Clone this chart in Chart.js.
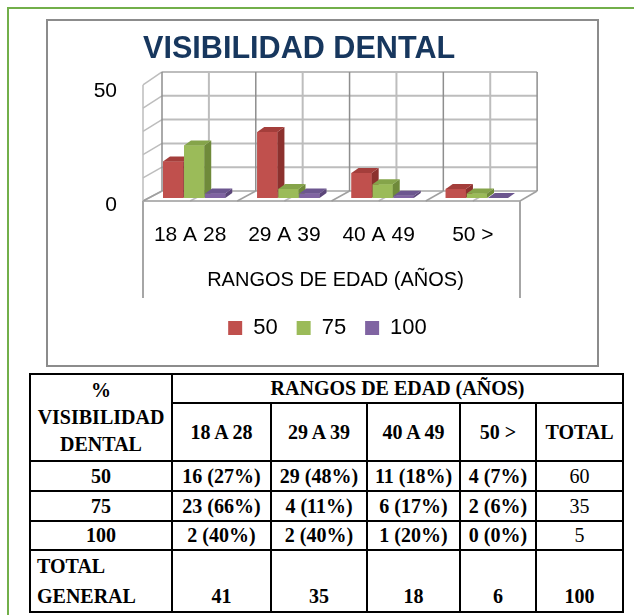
<!DOCTYPE html>
<html>
<head>
<meta charset="utf-8">
<title>Visibilidad dental</title>
<script src="https://cdn.jsdelivr.net/npm/chart.js@4.4.1/dist/chart.umd.min.js"></script>
<style>
  html, body { margin: 0; padding: 0; background: #fff; }
  body { width: 634px; height: 615px; position: relative; overflow: hidden; }
  #frame { position: absolute; left: 7px; top: 7px; width: 700px; height: 700px;
           border-top: 2.5px solid #72AF4A; border-left: 2.5px solid #72AF4A; }
  #chartBox { position: absolute; left: 46px; top: 19px; width: 549px; height: 344px;
              border: 2px solid #8C8C8C; background: #fff; }
  #chart { position: absolute; left: 0; top: 0; }
  #title { position: absolute; left: 143px; top: 30px; line-height: 30px; white-space: nowrap;
           font: bold 30.6px "Liberation Sans", Arial, sans-serif; color: #17375E; }
  #dataTable { position: absolute; left: 29px; top: 373px; width: 593px; table-layout: fixed;
               border-collapse: collapse; font: bold 20px "Liberation Serif", "Times New Roman", serif; color: #000; }
  #dataTable td { border: 2px solid #000; padding: 0; text-align: center; vertical-align: middle; line-height: 27px; }
  #dataTable td.plain { font-weight: normal; }
  #dataTable td.totalLabel { text-align: left; padding-left: 6px; vertical-align: bottom; line-height: 30px; }
  #dataTable tr.totalRow td { vertical-align: bottom; line-height: 30px; }
</style>
</head>
<body>
<div id="frame"></div>
<div id="chartBox"></div>
<canvas id="chart" width="634" height="370"></canvas>
<div id="title">VISIBILIDAD DENTAL</div>
<table id="dataTable">
  <colgroup>
    <col style="width:142px"><col style="width:99px"><col style="width:96px">
    <col style="width:93px"><col style="width:76px"><col style="width:87px">
  </colgroup>
  <tbody id="tableBody"></tbody>
</table>

<script>
const categories = ['18 A 28', '29 A 39', '40 A 49', '50 >'];
const seriesNames = ['50', '75', '100'];
const values50 = [16, 29, 11, 4];
const values75 = [23, 4, 6, 2];
const values100 = [2, 2, 1, 0];
const yTickLabels = ['0', '50'];
const axisTitle = 'RANGOS DE EDAD (AÑOS)';

const frontColors = ['#C0504D', '#9BBB59', '#8064A2'];
const sideColors = ['#8C312E', '#6F8A3A', '#5B4679'];
const topColors = ['#A43E3B', '#85A44A', '#6C568F'];

const seriesValues = [values50, values75, values100];

// t = 0 front plane, t = 1 back wall (oblique view of the Excel 3D box)
function proj(ca, x, y, t) {
  return [
    x - 4 + 19 * t - (x - ca.left) * 0.005 * t,
    ca.bottom + 3 - 10 * t - (ca.bottom - y) * (1.018 + 0.026 * t)
  ];
}

function poly(ctx, pts, fill) {
  ctx.beginPath();
  ctx.moveTo(pts[0][0], pts[0][1]);
  pts.slice(1).forEach(p => ctx.lineTo(p[0], p[1]));
  ctx.closePath();
  ctx.fillStyle = fill;
  ctx.fill();
}

function seg(ctx, a, b, color, w) {
  ctx.beginPath();
  ctx.moveTo(a[0], a[1]);
  ctx.lineTo(b[0], b[1]);
  ctx.strokeStyle = color;
  ctx.lineWidth = w;
  ctx.stroke();
}

const box3d = {
  id: 'box3d',
  beforeDatasetsDraw(chart) {
    const { ctx, chartArea: ca, scales: { x, y } } = chart;
    const L = ca.left, R = ca.right, T = ca.top, B = ca.bottom;
    const P = (px, py, t) => proj(ca, px, py, t);
    ctx.save();
    poly(ctx, [P(L, T, 1), P(R, T, 1), P(R, B, 1), P(L, B, 1)], '#fff');

    // value gridlines on back and side walls
    y.ticks.forEach(tk => {
      const py = y.getPixelForValue(tk.value);
      seg(ctx, P(L, py, 1), P(R, py, 1), '#BDBDBD', 2);
      seg(ctx, P(L, py, 0), P(L, py, 1), '#BDBDBD', 1.5);
    });

    // category lines on back wall and floor
    const n = categories.length;
    const step = (R - L) / n;
    categories.forEach((c, i) => {
      const cx = x.getPixelForValue(i);
      seg(ctx, P(cx, T, 1), P(cx, B, 1), '#BDBDBD', 2);
      seg(ctx, P(cx, B, 0), P(cx, B, 1), '#BDBDBD', 1.5);
    });
    for (let i = 0; i <= n; i++) {
      const bx = L + i * step;
      seg(ctx, P(bx, T, 1), P(bx, B, 1), '#8E8E8E', 1.5);
      seg(ctx, P(bx, B, 0), P(bx, B, 1), '#A0A0A0', 1.5);
    }

    // box edges
    seg(ctx, P(L, T, 0), P(L, B, 0), '#BDBDBD', 1.5);
    seg(ctx, P(L, B, 0), P(R, B, 0), '#9A9A9A', 1.5);
    seg(ctx, P(L, B, 0), [P(L, B, 0)[0], x.bottom], '#A6A6A6', 2);
    seg(ctx, P(R, B, 0), [P(R, B, 0)[0], x.bottom], '#A6A6A6', 2);
    ctx.restore();
  },
  afterDatasetsDraw(chart) {
    const ctx = chart.ctx;
    const dx = 7, dy = -5;
    ctx.save();
    seriesValues.forEach((vals, i) => {
      chart.getDatasetMeta(i).data.forEach(bar => {
        const { x, y, base, width } = bar.getProps(['x', 'y', 'base', 'width'], true);
        const l = x - width / 2, r = x + width / 2;
        bar.draw(ctx);
        poly(ctx, [[r, y], [r + dx, y + dy], [r + dx, base + dy], [r, base]], sideColors[i]);
        poly(ctx, [[l, y], [l + dx, y + dy], [r + dx, y + dy], [r, y]], topColors[i]);
      });
    });
    ctx.restore();
  }
};

Chart.defaults.font.family = '"Liberation Sans", Arial, sans-serif';
Chart.defaults.color = '#000';

new Chart(document.getElementById('chart'), {
  type: 'bar',
  data: {
    labels: categories,
    datasets: seriesNames.map((name, i) => ({
      label: name,
      data: seriesValues[i],
      backgroundColor: frontColors[i],
      borderWidth: 0,
      categoryPercentage: 0.67,
      barPercentage: 0.96
    }))
  },
  options: {
    responsive: false,
    animation: false,
    layout: { padding: { left: 90, right: 69, top: 84, bottom: 21 } },
    plugins: {
      tooltip: { enabled: false },
      legend: {
        position: 'bottom',
        labels: { boxWidth: 14, boxHeight: 14, padding: 19, font: { size: 22 }, color: '#000' }
      }
    },
    scales: {
      x: {
        grid: { display: false },
        border: { display: false },
        ticks: { font: { size: 21 }, padding: 17, labelOffset: -4, maxRotation: 0, autoSkip: false },
        title: { display: true, text: axisTitle, font: { size: 20 }, color: '#000', padding: { top: 0, bottom: 6 } },
        afterFit: s => { s.height = 100; }
      },
      y: {
        min: 0, max: 50,
        grid: { display: false, drawTicks: false },
        border: { display: false },
        ticks: {
          stepSize: 10, font: { size: 21 }, padding: 30, labelOffset: 7, autoSkip: false,
          callback: v => yTickLabels.includes(String(v)) ? String(v) : ''
        },
        afterFit: s => { s.width = 57; }
      },
      // empty right-hand box so the legend centres where Excel put it
      yRight: {
        type: 'linear', position: 'right', min: 0, max: 50,
        grid: { display: false }, border: { display: false }, ticks: { display: false },
        afterFit: s => { s.width = 41; }
      }
    }
  },
  plugins: [box3d]
});

// table below the chart
const rowTotals = seriesValues.map(v => v.reduce((a, b) => a + b, 0));
const colTotals = categories.map((c, j) => seriesValues.reduce((a, v) => a + v[j], 0));
const grandTotal = rowTotals.reduce((a, b) => a + b, 0);

let html = '<tr style="height:28px"><td rowspan="2">%<br>VISIBILIDAD<br>DENTAL</td>' +
  `<td colspan="5">${axisTitle}</td></tr>`;
html += '<tr style="height:58px">' + categories.map(c => `<td>${c}</td>`).join('') + '<td>TOTAL</td></tr>';
const rowHeights = [30, 30, 29];
seriesNames.forEach((name, i) => {
  html += `<tr style="height:${rowHeights[i]}px"><td>${name}</td>` +
    seriesValues[i].map(v => `<td>${v} (${Math.round(v / rowTotals[i] * 100)}%)</td>`).join('') +
    `<td class="plain">${rowTotals[i]}</td></tr>`;
});
html += '<tr class="totalRow" style="height:57px"><td class="totalLabel">TOTAL<br>GENERAL</td>' +
  colTotals.map(t => `<td>${t}</td>`).join('') + `<td>${grandTotal}</td></tr>`;
document.getElementById('tableBody').innerHTML = html;
</script>
</body>
</html>
